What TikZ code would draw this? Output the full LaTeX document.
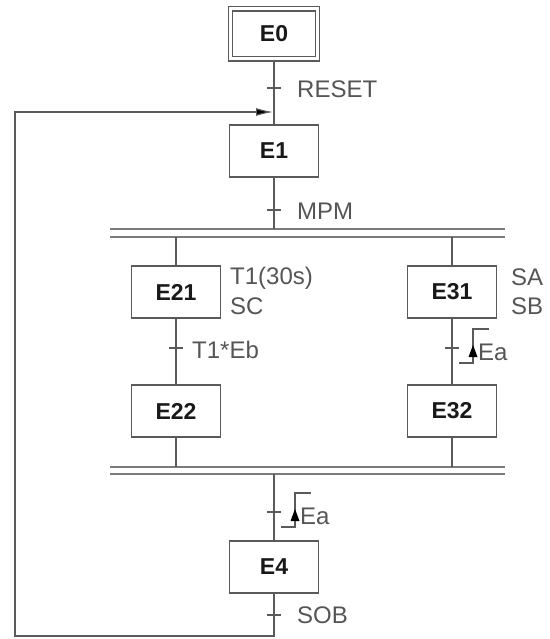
\documentclass[tikz,border=0pt]{standalone}
\usepackage{fontspec}
\setmainfont{Liberation Sans}
\usetikzlibrary{positioning, arrows.meta}
\definecolor{LineColor}{RGB}{90,90,90}
\definecolor{LabelColor}{RGB}{85,85,85}
\definecolor{StepText}{RGB}{25,25,25}
% rising edge symbol: #1 tick coordinate, #2 node name, #3 text
\newcommand{\RisingEdge}[3]{%
    \draw[link, shift={(#1)}] (7,15) -- (21,15) -- (21,-19) -- (37,-19);
    \fill[black, shift={(#1)}] (21,-3) -- (25.5,9) -- (16.5,9) -- cycle;
    \node[cond] (#2) at ([shift={(26,4)}]#1) {#3};
}

\begin{document}
\begin{tikzpicture}[x=1pt, y=-1pt, >=Latex,
        stepbox/.style={draw=LineColor, line width=1.1pt, minimum width=89pt, minimum height=52pt,
            inner sep=0pt, font=\fontsize{23}{23}\selectfont\bfseries, text=StepText},
        initbox/.style={stepbox, double=white, double distance=3pt, minimum width=87pt, minimum height=50pt},
        link/.style={draw=LineColor, line width=1.1pt},
        cond/.style={font=\fontsize{24}{24}\selectfont, text=LabelColor, anchor=west, inner sep=0pt},
        bar/.style={draw=LineColor!80, line width=1.6pt}]
    \useasboundingbox (0,0) rectangle (549,639);
    % Steps
    \node[initbox] (E0) at (274,34) {E0};
    \node[stepbox] (E1) at (274,151) {E1};
    \node[stepbox] (E21) at (176,292) {E21};
    \node[stepbox] (E31) at (452,292) {E31};
    \node[stepbox] (E22) at (176,411) {E22};
    \node[stepbox] (E32) at (452,411) {E32};
    \node[stepbox] (E4) at (274,567) {E4};
    % Transitions
    \coordinate (t0) at (274,88);
    \coordinate (t1) at (274,210);
    \coordinate (t21) at (176,348);
    \coordinate (t31) at (452,348);
    \coordinate (t4) at (274,512);
    \coordinate (t5) at (274,615);
    % Divergence / convergence
    \coordinate (divC) at (274,229);
    \coordinate (divL) at (176,237);
    \coordinate (divR) at (452,237);
    \coordinate (convL) at (176,467);
    \coordinate (convR) at (452,467);
    \coordinate (convC) at (274,474);
    \draw[bar] (110,229) -- (505,229);
    \draw[bar] (110,237) -- (505,237);
    \draw[bar] (110,467) -- (505,467);
    \draw[bar] (110,474) -- (505,474);
    % Links
    \draw[link] (E0) -- (E1);
    \draw[link] (E1) -- (divC);
    \draw[link] (divL) -- (E21);
    \draw[link] (divR) -- (E31);
    \draw[link] (E21) -- (E22);
    \draw[link] (E31) -- (E32);
    \draw[link] (E22) -- (convL);
    \draw[link] (E32) -- (convR);
    \draw[link] (convC) -- (E4);
    % Loop back to E1
    \coordinate (bottom) at (274,636);
    \coordinate (corner) at (15,112);
    \coordinate (entry) at (273,112);
    \draw[link, -{Latex[length=17pt, width=8pt, fill=black]}] (E4) -- (bottom) -| (corner) -- (entry);
    % Ticks
    \foreach \t in {t0,t1,t21,t31,t4,t5} {
            \draw[link] ([xshift=-7pt]\t) -- ([xshift=7pt]\t);
        }
    % Receptivities and actions
    \node[cond] (cReset) at (297,89) {RESET};
    \node[cond] (cMpm) at (297,211) {MPM};
    \node[cond] (aT1) at (230,278) {T1(30s)};
    \node[cond] (aSC) at (230,306) {SC};
    \node[cond] (aSA) at (511,277) {SA};
    \node[cond] (aSB) at (511,306) {SB};
    \node[cond] (cT1Eb) at (192,350) {T1*Eb};
    \RisingEdge{t31}{cEa1}{Ea}
    \RisingEdge{t4}{cEa2}{Ea}
    \node[cond] (cSob) at (297,615) {SOB};
\end{tikzpicture}
\end{document}
